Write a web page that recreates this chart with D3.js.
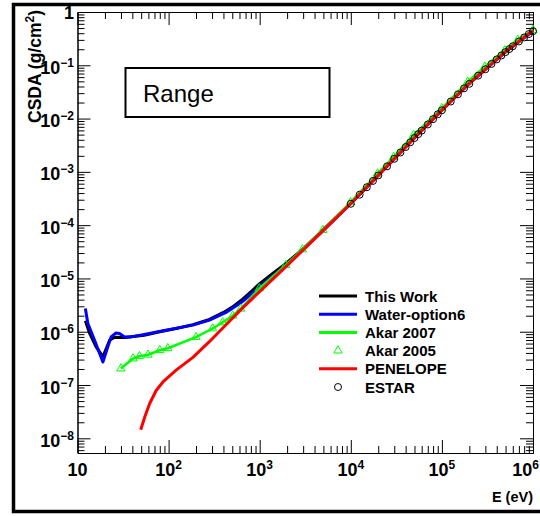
<!DOCTYPE html>
<html><head><meta charset="utf-8">
<script src="https://cdn.jsdelivr.net/npm/d3@7"></script>
<style>body{margin:0;background:#fff} svg{display:block}</style>
</head><body>
<svg id="c" width="540" height="516"></svg>
<script>
// ---- data (E in eV, CSDA range in g/cm^2) ----
const thisWorkE = [12.2, 13.6, 16, 19, 22.5, 25.5, 33, 54, 80, 121, 185, 281, 400, 500, 650, 834, 1000, 1400, 1930, 3000, 5000, 1e4, 2e4, 3e4, 5e4, 1e5, 2e5, 3e5, 5e5, 7e5, 1e6];
const thisWorkR = [1.6e-6, 9.3e-7, 5.2e-7, 3.4e-7, 6.9e-7, 7.9e-7, 7.8e-7, 8.6e-7, 1.0e-6, 1.15e-6, 1.36e-6, 1.7e-6, 2.3e-6, 2.9e-6, 4.1e-6, 6.0e-6, 8.0e-6, 1.25e-5, 1.9e-5, 3.6e-5, 8.3e-5, 2.6e-4, 8.7e-4, 1.78e-3, 4.4e-3, 1.45e-2, 4.6e-2, 8.8e-2, 0.18, 0.29, 0.44];

const waterE = [12.2, 13.0, 15.4, 19.0, 21.5, 23.4, 26.5, 28.9, 32.8, 38.7, 54, 93, 185, 281, 427, 650, 800, 1000, 2000, 5000, 1e4, 2e4, 5e4, 1e5, 2e5, 5e5, 1e6];
const waterR = [2.72e-6, 1.43e-6, 6.9e-7, 2.7e-7, 5.2e-7, 8.0e-7, 9.5e-7, 9.3e-7, 8.0e-7, 8.0e-7, 8.9e-7, 1.07e-6, 1.33e-6, 1.65e-6, 2.3e-6, 3.7e-6, 5.0e-6, 7.0e-6, 1.85e-5, 8.0e-5, 2.55e-4, 8.6e-4, 4.35e-3, 1.44e-2, 4.55e-2, 0.178, 0.44];

const akar07E = [30, 40.7, 48, 59.4, 80, 98, 200, 304, 392, 505, 620, 990, 1930, 2940, 4940, 9940, 19700, 29500, 48900, 99600, 192000, 296000, 490000, 680000, 1e6];
const akar07R = [2.04e-7, 3.14e-7, 3.47e-7, 3.7e-7, 4.5e-7, 4.9e-7, 7.9e-7, 1.15e-6, 1.5e-6, 2.0e-6, 2.7e-6, 6.5e-6, 1.78e-5, 3.5e-5, 8.1e-5, 2.68e-4, 9.3e-4, 1.9e-3, 4.9e-3, 1.56e-2, 4.9e-2, 9.4e-2, 0.19, 0.30, 0.46];

const akar05E = [30, 40.7, 48, 59.4, 80, 98, 200, 304, 392, 505, 620, 990, 1930, 2940, 4940, 9940, 19700, 29500, 48900, 99600, 192000, 296000, 490000, 680000, 1e6];
const akar05R = [2.04e-7, 3.14e-7, 3.47e-7, 3.7e-7, 4.5e-7, 4.9e-7, 7.9e-7, 1.15e-6, 1.5e-6, 2.0e-6, 2.7e-6, 6.5e-6, 1.78e-5, 3.5e-5, 8.1e-5, 2.68e-4, 9.3e-4, 1.9e-3, 4.9e-3, 1.56e-2, 4.9e-2, 9.4e-2, 0.19, 0.30, 0.46];

const penE = [49.4, 54.7, 62, 73, 86.7, 121, 185, 280, 427, 650, 990, 1930, 5000, 1e4, 2e4, 5e4, 1e5, 2e5, 5e5, 1e6];
const penR = [1.45e-8, 2.5e-8, 4.5e-8, 7.9e-8, 1.14e-7, 1.9e-7, 3.3e-7, 6.5e-7, 1.35e-6, 2.8e-6, 5.6e-6, 1.65e-5, 8.0e-5, 2.55e-4, 8.6e-4, 4.35e-3, 1.44e-2, 4.6e-2, 0.18, 0.45];

const estarE = [1e4, 1.25e4, 1.5e4, 1.75e4, 2e4, 2.5e4, 3e4, 3.5e4, 4e4, 4.5e4, 5e4, 5.5e4, 6e4, 7e4, 8e4, 9e4, 1e5, 1.25e5, 1.5e5, 1.75e5, 2e5, 2.5e5, 3e5, 3.5e5, 4e5, 4.5e5, 5e5, 5.5e5, 6e5, 7e5, 8e5, 9e5, 1e6];
const estarR = [2.515e-4, 3.73e-4, 5.15e-4, 6.76e-4, 8.57e-4, 1.27e-3, 1.76e-3, 2.31e-3, 2.92e-3, 3.59e-3, 4.32e-3, 5.10e-3, 5.94e-3, 7.76e-3, 9.77e-3, 1.20e-2, 1.43e-2, 2.09e-2, 2.85e-2, 3.69e-2, 4.49e-2, 6.39e-2, 8.42e-2, 1.06e-1, 1.29e-1, 1.53e-1, 1.77e-1, 2.02e-1, 2.28e-1, 2.80e-1, 3.33e-1, 3.86e-1, 4.37e-1];

const xMajor = [10, 1e2, 1e3, 1e4, 1e5, 1e6];
const xLabelExp = [null, "2", "3", "4", "5", "6"];
const yMajor = [1e-8, 1e-7, 1e-6, 1e-5, 1e-4, 1e-3, 1e-2, 1e-1, 1];
const yLabelExp = ["\u22128", "\u22127", "\u22126", "\u22125", "\u22124", "\u22123", "\u22122", "\u22121", null];

const legendNames = ["This Work", "Water-option6", "Akar 2007", "Akar 2005", "PENELOPE", "ESTAR"];
const colors = {black: "#000000", blue: "#0000ff", green: "#00ff00", red: "#ff0000"};

// ---- drawing ----
const svg = d3.select("#c");
svg.append("rect").attr("width", 540).attr("height", 516).attr("fill", "#fff");
svg.append("rect").attr("x", 13.5).attr("y", 4.5).attr("width", 620).attr("height", 507)
  .attr("fill", "none").attr("stroke", "#000").attr("stroke-width", 3.5);

const x = d3.scaleLog().domain([10, 1e6]).range([77.5, 533]);
const y = d3.scaleLog().domain([5.3e-9, 1]).range([453, 12]);

const xMinor = [];
for (let d = 1; d <= 5; d++) for (let k = 2; k <= 9; k++) xMinor.push(k * Math.pow(10, d));
const yMinor = [];
for (let d = -9; d <= -1; d++) for (let k = 2; k <= 9; k++) { const v = k * Math.pow(10, d); if (v >= 5.3e-9) yMinor.push(v); }

function ax(gen, tr) {
  const g = svg.append("g").attr("transform", tr).call(gen);
  g.selectAll("path,line").attr("stroke", "#000").attr("stroke-width", 1);
  g.selectAll("text").remove();
  return g;
}
const F = "'Liberation Sans', Arial, Helvetica, sans-serif";
ax(d3.axisBottom(x).tickValues(xMajor).tickSize(-13).tickSizeOuter(0), "translate(0,453)");
ax(d3.axisBottom(x).tickValues(xMinor).tickSize(-7).tickSizeOuter(0), "translate(0,453)");
ax(d3.axisTop(x).tickValues(xMajor).tickSize(-13).tickSizeOuter(0), "translate(0,12)");
ax(d3.axisTop(x).tickValues(xMinor).tickSize(-7).tickSizeOuter(0), "translate(0,12)");
ax(d3.axisLeft(y).tickValues(yMajor).tickSize(-13).tickSizeOuter(0), "translate(77.5,0)");
ax(d3.axisLeft(y).tickValues(yMinor).tickSize(-7).tickSizeOuter(0), "translate(77.5,0)");
ax(d3.axisRight(y).tickValues(yMajor).tickSize(-13).tickSizeOuter(0), "translate(533,0)");
ax(d3.axisRight(y).tickValues(yMinor).tickSize(-7).tickSizeOuter(0), "translate(533,0)");

// tick labels
xMajor.forEach((v, i) => {
  const last = i === xMajor.length - 1;
  const t = svg.append("text").attr("x", last ? 539 : x(v)).attr("y", 476).attr("text-anchor", last ? "end" : "middle")
    .attr("font-family", F).attr("font-weight", "bold").attr("font-size", 18);
  t.append("tspan").text("10");
  if (xLabelExp[i]) t.append("tspan").attr("dy", -7).attr("font-size", 12).text(xLabelExp[i]);
});
yMajor.forEach((v, i) => {
  const t = svg.append("text").attr("x", 74).attr("y", y(v) + (yLabelExp[i] ? 8.5 : 7)).attr("text-anchor", "end")
    .attr("font-family", F).attr("font-weight", "bold").attr("font-size", 18);
  if (yLabelExp[i]) {
    t.append("tspan").text("10");
    t.append("tspan").attr("dy", -7).attr("font-size", 12).text(yLabelExp[i]);
  } else t.append("tspan").text("1");
});

// axis titles
svg.append("text").attr("x", 533).attr("y", 502).attr("text-anchor", "end")
  .attr("font-family", F).attr("font-weight", "bold").attr("font-size", 14.5).text("E (eV)");
const yt = svg.append("text").attr("transform", "translate(41,10) rotate(-90)").attr("text-anchor", "end")
  .attr("font-family", F).attr("font-weight", "bold").attr("font-size", 17.5);
yt.append("tspan").text("CSDA (g/cm");
yt.append("tspan").attr("dy", -7).attr("font-size", 12).text("2");
yt.append("tspan").attr("dy", 7).text(")");

// Range box
svg.append("rect").attr("x", 125.5).attr("y", 68).attr("width", 204).attr("height", 49)
  .attr("fill", "#fff").attr("stroke", "#000").attr("stroke-width", 2);
svg.append("text").attr("x", 143).attr("y", 102).attr("font-family", F).attr("font-size", 24).text("Range");

// curves
const line = (E, R) => d3.line().x((d, i) => x(E[i])).y((d, i) => y(R[i]))(E);
const plot = svg.append("g");
plot.append("path").attr("d", line(thisWorkE, thisWorkR)).attr("fill", "none").attr("stroke", colors.black).attr("stroke-width", 3).attr("stroke-linejoin", "round");
plot.append("path").attr("d", line(waterE, waterR)).attr("fill", "none").attr("stroke", colors.blue).attr("stroke-width", 3).attr("stroke-linejoin", "round");
plot.append("path").attr("d", line(akar07E, akar07R)).attr("fill", "none").attr("stroke", colors.green).attr("stroke-width", 2.5).attr("stroke-linejoin", "round");
const tri = d3.symbol().type(d3.symbolTriangle).size(30);
plot.selectAll(".tri").data(akar05E).enter().append("path")
  .attr("d", tri).attr("transform", (d, i) => `translate(${x(d)},${y(akar05R[i])})`)
  .attr("fill", "none").attr("stroke", colors.green).attr("stroke-width", 1);
plot.append("path").attr("d", line(penE, penR)).attr("fill", "none").attr("stroke", colors.red).attr("stroke-width", 3).attr("stroke-linejoin", "round");
plot.selectAll(".circ").data(estarE).enter().append("circle")
  .attr("cx", d => x(d)).attr("cy", (d, i) => y(estarR[i])).attr("r", 3.5)
  .attr("fill", "none").attr("stroke", "#000").attr("stroke-width", 1);

// legend
const legY0 = 296, legStep = 18.2;
const legKinds = ["line", "line", "line", "tri", "line", "circ"];
const legCols = [colors.black, colors.blue, colors.green, colors.green, colors.red, "#000"];
legendNames.forEach((n, i) => {
  const cy = legY0 + i * legStep;
  if (legKinds[i] === "line") {
    svg.append("line").attr("x1", 319).attr("x2", 357).attr("y1", cy).attr("y2", cy)
      .attr("stroke", legCols[i]).attr("stroke-width", 3);
  } else if (legKinds[i] === "tri") {
    svg.append("path").attr("d", tri).attr("transform", `translate(338,${cy})`)
      .attr("fill", "none").attr("stroke", legCols[i]).attr("stroke-width", 1);
  } else {
    svg.append("circle").attr("cx", 338).attr("cy", cy).attr("r", 3.5)
      .attr("fill", "none").attr("stroke", legCols[i]).attr("stroke-width", 1);
  }
  svg.append("text").attr("x", 365).attr("y", cy + 5.5).attr("font-family", F).attr("font-weight", "bold")
    .attr("font-size", 15).text(n);
});
</script>
</body></html>
